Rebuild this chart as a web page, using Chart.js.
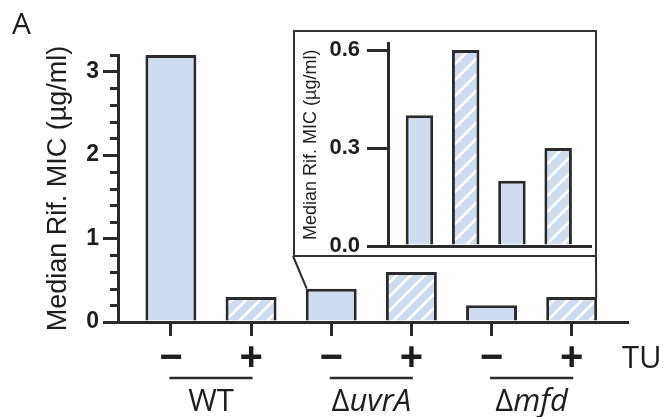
<!DOCTYPE html>
<html lang="en">
<head>
    <meta charset="UTF-8">
    <title>Median Rif. MIC</title>
    <script src="https://cdn.jsdelivr.net/npm/chart.js"></script>
    <style>
        body {
            margin: 0;
            background: #ffffff;
        }
        #wrap {
            position: relative;
            width: 663px;
            height: 417px;
        }
        #mainChart {
            position: absolute;
            left: 0;
            top: 0;
        }
        #insetBox {
            position: absolute;
            left: 293px;
            top: 30px;
            width: 304px;
            height: 227px;
            box-sizing: border-box;
            border: 2px solid #333;
            background: #ffffff;
        }
        /* transparent canvas, taller than the box so the axis labels get room */
        #insetChart {
            position: absolute;
            left: 295px;
            top: 0;
        }
    </style>
</head>
<body>
<div id="wrap">
    <canvas id="mainChart" width="663" height="417"></canvas>
    <div id="insetBox"></div>
    <canvas id="insetChart" width="300" height="300"></canvas>
</div>

<script>
    // ---- data ----
    const strains = ['WT', 'ΔuvrA', 'Δmfd'];
    const tuLabels = ['−', '+', '−', '+', '−', '+'];
    const micValues = [3.2, 0.3, 0.4, 0.6, 0.2, 0.3];
    const hatched = [false, true, false, true, false, true];
    const yTicks = [0, 1, 2, 3];
    const yMinorTicks = [0.2, 0.4, 0.6, 0.8, 1.2, 1.4, 1.6, 1.8, 2.2, 2.4, 2.6, 2.8, 3.2];

    const insetValues = [0.4, 0.6, 0.2, 0.3];
    const insetHatched = [false, true, false, true];
    const insetYTicks = [0, 0.3, 0.6];

    const yTitle = 'Median Rif. MIC (µg/ml)';
    const treatmentLabel = 'TU';
    const panelLabel = 'A';

    // ---- style ----
    const ink = '#2b2b2b';
    const fill = '#cedcf0';
    const arial = '"Liberation Sans", Arial, sans-serif';
    const sans = '"Open Sans", "Noto Sans", sans-serif';

    function hatch(size, bg) {
        const c = document.createElement('canvas');
        c.width = c.height = size;
        const g = c.getContext('2d');
        g.fillStyle = bg;
        g.fillRect(0, 0, size, size);
        g.strokeStyle = '#ffffff';
        g.lineWidth = 2.5;
        g.beginPath();
        g.moveTo(0, size); g.lineTo(size, 0);
        g.moveTo(-size / 2, size / 2); g.lineTo(size / 2, -size / 2);
        g.moveTo(size / 2, size * 1.5); g.lineTo(size * 1.5, size / 2);
        g.stroke();
        return g.createPattern(c, 'repeat');
    }

    const mainHatch = hatch(14, fill);
    const insetHatch = hatch(16, fill);

    // minor ticks, group bars & labels, link lines to the inset
    const decorations = {
        id: 'decorations',
        afterDraw(chart) {
            const {ctx, scales: {x, y}} = chart;
            ctx.save();
            ctx.strokeStyle = ink;
            ctx.fillStyle = '#1e1e1e';

            // minor y ticks
            ctx.lineWidth = 3;
            yMinorTicks.forEach(v => {
                const py = Math.round(y.getPixelForValue(v)) + 0.5;
                ctx.beginPath();
                ctx.moveTo(x.left - 8, py);
                ctx.lineTo(x.left, py);
                ctx.stroke();
            });

            // strain lines and names
            ctx.lineWidth = 2.5;
            strains.forEach((name, i) => {
                const x1 = x.getPixelForValue(2 * i) - 1.5;
                const x2 = x.getPixelForValue(2 * i + 1) + 1.5;
                ctx.beginPath();
                ctx.moveTo(x1, 378);
                ctx.lineTo(x2, 378);
                ctx.stroke();

                const cx = (x1 + x2) / 2;
                ctx.textBaseline = 'alphabetic';
                ctx.textAlign = 'left';
                if (name.startsWith('Δ')) {
                    const up = '400 31px ' + sans, it = 'italic 400 31px ' + sans;
                    ctx.font = up;
                    const w1 = ctx.measureText('Δ').width;
                    ctx.font = it;
                    const w2 = ctx.measureText(name.slice(1)).width;
                    const sx = cx - (w1 + w2) / 2;
                    ctx.font = up;
                    ctx.fillText('Δ', sx, 411);
                    ctx.font = it;
                    ctx.fillText(name.slice(1), sx + w1, 411);
                } else {
                    ctx.font = '400 31px ' + sans;
                    ctx.textAlign = 'center';
                    ctx.fillText(name, cx, 411);
                }
            });

            // TU
            ctx.font = '400 31px ' + sans;
            ctx.textAlign = 'left';
            ctx.fillText(treatmentLabel, x.right - 5, 368);

            // panel letter
            ctx.font = '400 30px ' + sans;
            ctx.fillText(panelLabel, 12, 34);

            // lines from inset box to the zoomed bars
            const box = document.getElementById('insetBox');
            const bl = {x: box.offsetLeft, y: box.offsetTop + box.offsetHeight - 1};
            const br = {x: box.offsetLeft + box.offsetWidth - 1, y: bl.y};
            const bars = chart.getDatasetMeta(0).data;
            ctx.lineWidth = 2;
            ctx.beginPath();
            ctx.moveTo(bl.x, bl.y);
            ctx.lineTo(bars[2].x - bars[2].width / 2 + 1, bars[2].y);
            ctx.moveTo(br.x, br.y);
            ctx.lineTo(bars[5].x + bars[5].width / 2 - 1, bars[5].y);
            ctx.stroke();
            ctx.restore();
        }
    };

    // ---- main chart ----
    new Chart(document.getElementById('mainChart'), {
        type: 'bar',
        data: {
            datasets: [{
                data: micValues.map((v, i) => ({x: i, y: v})),
                backgroundColor: hatched.map(h => h ? mainHatch : fill),
                borderColor: ink,
                borderWidth: 3,
                barPercentage: 0.636,
                categoryPercentage: 1
            }]
        },
        options: {
            responsive: false,
            animation: false,
            layout: {padding: {top: 55, right: 36, left: 0, bottom: 0}},
            plugins: {legend: {display: false}, tooltip: {enabled: false}},
            scales: {
                x: {
                    type: 'linear',
                    min: -0.66,
                    max: 5.69,
                    offset: false,
                    afterBuildTicks: s => { s.ticks = tuLabels.map((t, i) => ({value: i})); },
                    afterFit: s => { s.height = 95; },
                    grid: {offset: false, drawOnChartArea: false, drawTicks: true, tickLength: 14,
                           tickWidth: 3, tickColor: ink, color: ink, lineWidth: 3},
                    border: {color: ink, width: 3},
                    ticks: {
                        callback: (v, i) => tuLabels[i],
                        autoSkip: false, maxRotation: 0, padding: -1,
                        color: '#1e1e1e',
                        font: {family: arial, size: 40, weight: 'bold'}
                    }
                },
                y: {
                    min: 0,
                    max: 3.2,
                    afterBuildTicks: s => { s.ticks = yTicks.map(v => ({value: v})); },
                    afterFit: s => { s.width = 118; },
                    grid: {drawOnChartArea: false, drawTicks: true, tickLength: 15,
                           tickWidth: 3, tickColor: ink, color: ink, lineWidth: 3},
                    border: {color: ink, width: 3},
                    ticks: {
                        callback: v => v,
                        padding: 4,
                        color: '#1e1e1e',
                        font: {family: arial, size: 23, weight: 'bold'}
                    },
                    title: {
                        display: true,
                        text: yTitle,
                        color: '#1e1e1e',
                        font: {family: arial, size: 27},
                        padding: {top: 42, bottom: 0}
                    }
                }
            }
        },
        plugins: [decorations]
    });

    // ---- inset chart ----
    new Chart(document.getElementById('insetChart'), {
        type: 'bar',
        data: {
            datasets: [{
                data: insetValues.map((v, i) => ({x: i, y: v})),
                backgroundColor: insetHatched.map(h => h ? insetHatch : fill),
                borderColor: ink,
                borderWidth: 3,
                barPercentage: 0.595,
                categoryPercentage: 1
            }]
        },
        options: {
            responsive: false,
            animation: false,
            layout: {padding: {top: 43.5, right: 4, left: 0, bottom: 0}},
            plugins: {legend: {display: false}, tooltip: {enabled: false}},
            scales: {
                x: {
                    type: 'linear',
                    min: -0.68,
                    max: 3.71,
                    offset: false,
                    afterBuildTicks: s => { s.ticks = insetValues.map((v, i) => ({value: i})); },
                    afterFit: s => { s.height = 54; },
                    grid: {offset: false, display: false},
                    border: {color: ink, width: 3},
                    ticks: {display: false}
                },
                y: {
                    min: 0,
                    max: 0.62,
                    afterBuildTicks: s => { s.ticks = insetYTicks.map(v => ({value: v})); },
                    afterFit: s => { s.width = 93; },
                    grid: {drawOnChartArea: false, drawTicks: true, tickLength: 21,
                           tickWidth: 3, tickColor: ink, color: ink, lineWidth: 3},
                    border: {color: ink, width: 3},
                    ticks: {
                        callback: v => v.toFixed(1),
                        padding: 7,
                        color: '#1e1e1e',
                        font: {family: arial, size: 22, weight: 'bold'}
                    },
                    title: {
                        display: true,
                        text: yTitle,
                        color: '#1e1e1e',
                        font: {family: arial, size: 18},
                        padding: {top: 5, bottom: 0}
                    }
                }
            }
        }
    });
</script>
</body>
</html>
